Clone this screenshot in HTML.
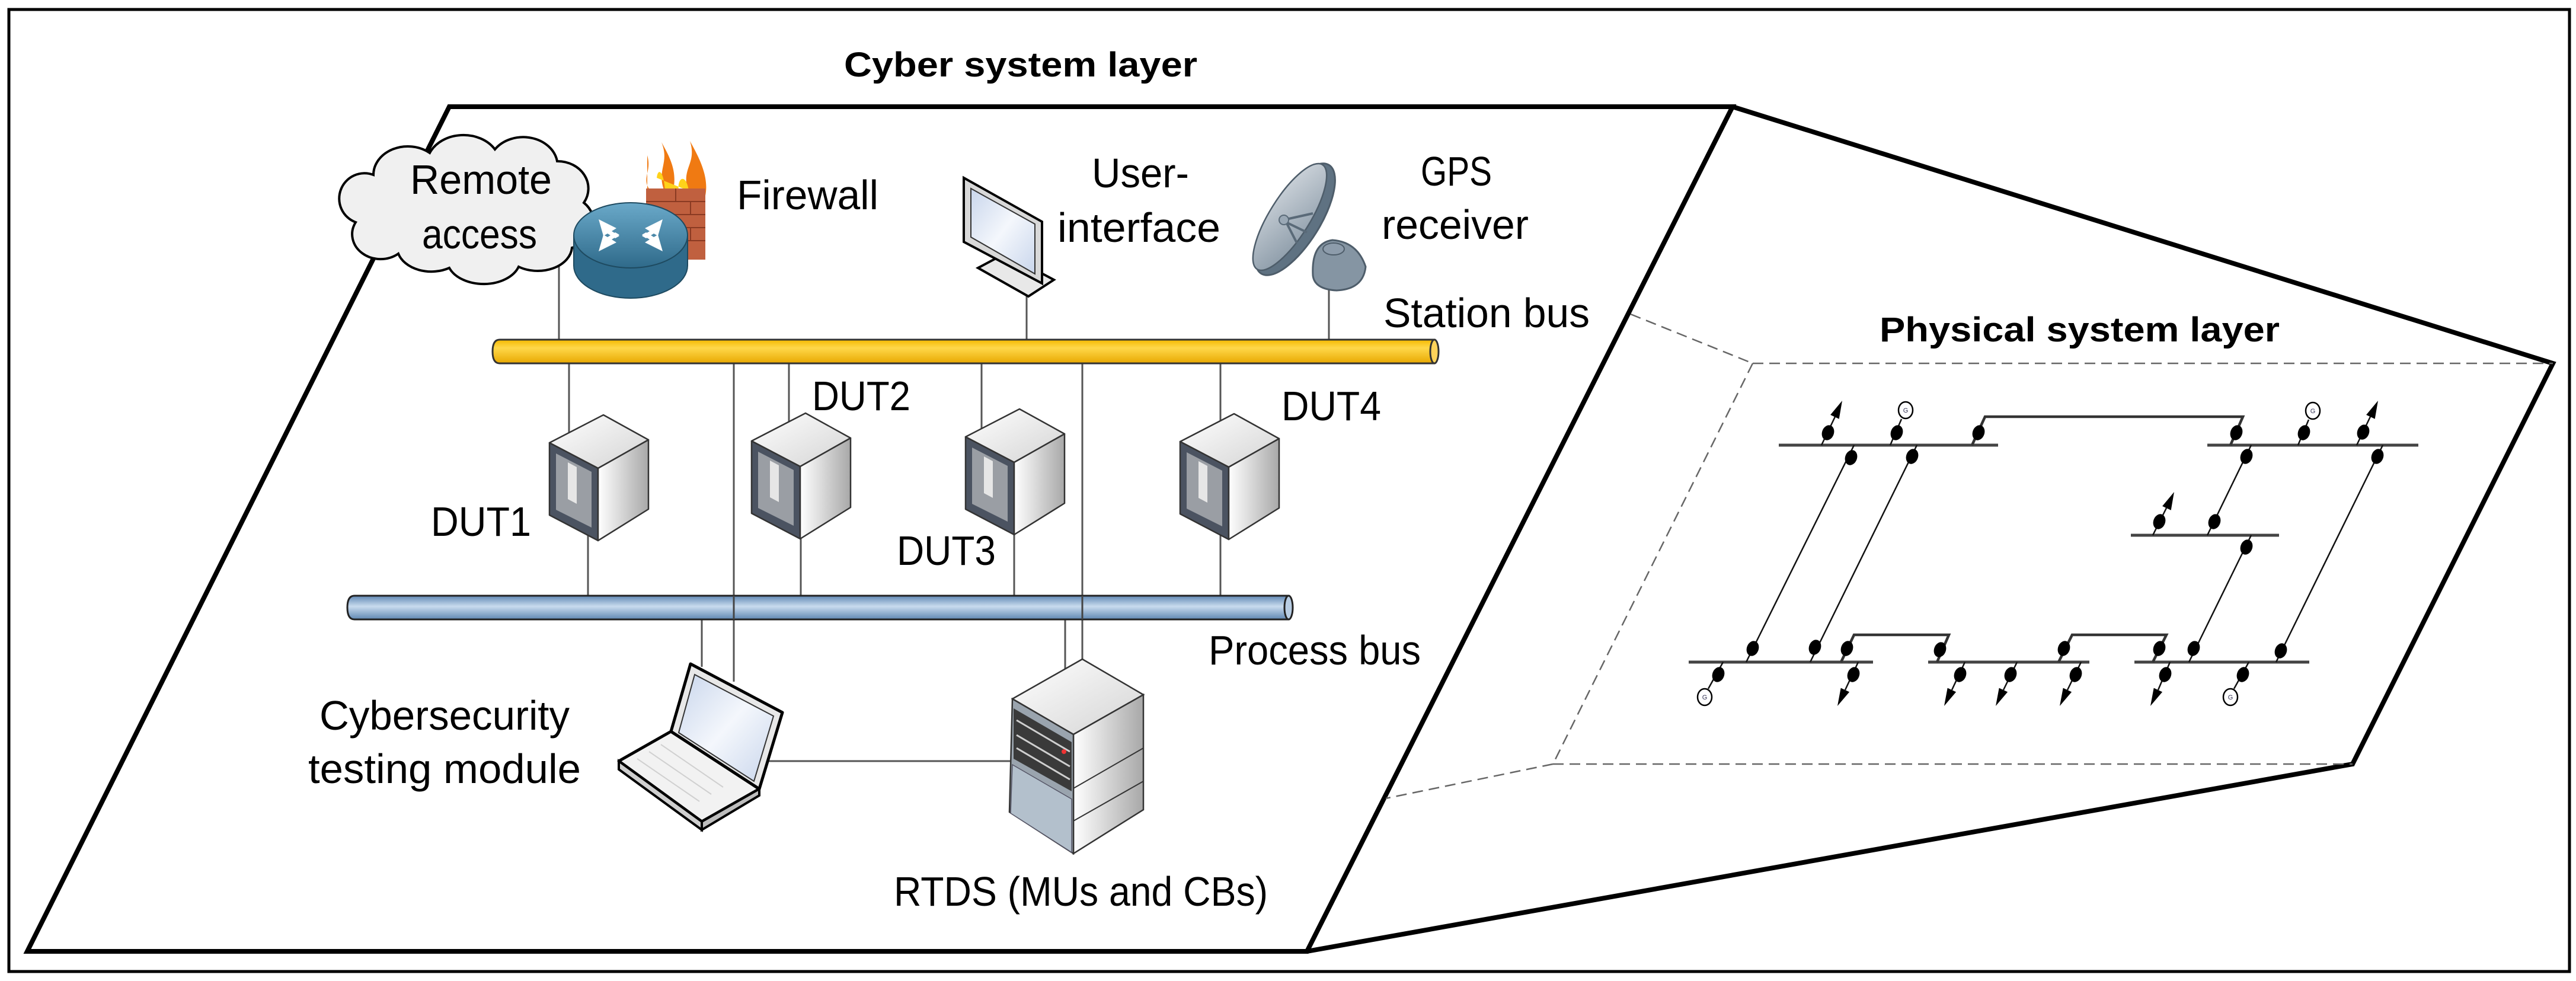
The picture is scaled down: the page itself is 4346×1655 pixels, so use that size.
<!DOCTYPE html>
<html><head><meta charset="utf-8"><style>html,body{margin:0;padding:0;background:#fff}svg{display:block}</style></head>
<body>
<svg xmlns="http://www.w3.org/2000/svg" width="4346" height="1655" viewBox="0 0 4346 1655">
<defs>
<linearGradient id="yel" x1="0" y1="0" x2="0" y2="1"><stop offset="0" stop-color="#f5b800"/><stop offset="0.35" stop-color="#ffd84a"/><stop offset="1" stop-color="#e8a800"/></linearGradient>
<linearGradient id="blu" x1="0" y1="0" x2="0" y2="1"><stop offset="0" stop-color="#5f87b3"/><stop offset="0.45" stop-color="#c9dbee"/><stop offset="1" stop-color="#5f87b3"/></linearGradient>
<linearGradient id="rf" x1="0" y1="0" x2="1" y2="0"><stop offset="0" stop-color="#ffffff"/><stop offset="1" stop-color="#a8a8a8"/></linearGradient>
<linearGradient id="tf" x1="0" y1="0" x2="1" y2="1"><stop offset="0" stop-color="#ffffff"/><stop offset="1" stop-color="#d4d4d4"/></linearGradient>
<linearGradient id="rt" x1="0" y1="0" x2="0" y2="1"><stop offset="0" stop-color="#6aa9c9"/><stop offset="1" stop-color="#2f6a8a"/></linearGradient>
<linearGradient id="dish" x1="0" y1="0" x2="1" y2="1"><stop offset="0" stop-color="#d3d9df"/><stop offset="1" stop-color="#8696a4"/></linearGradient>
<linearGradient id="scr" x1="0" y1="0" x2="1" y2="1"><stop offset="0" stop-color="#c9d6ec"/><stop offset="0.5" stop-color="#f4f7fc"/><stop offset="1" stop-color="#c9d6ec"/></linearGradient>
<g id="srv" stroke="#333" stroke-width="2.5" stroke-linejoin="round">
<polygon points="0,0 76,42 -9,90 -91,47" fill="url(#tf)"/>
<polygon points="-91,47 -9,90 -9,212 -91,169" fill="#4b5361"/>
<polygon points="-80,65 -20,96 -20,190 -80,160" fill="#9a9ea4" stroke="none"/>
<polygon points="-60,80 -45,88 -45,150 -60,142" fill="#e6e6e6" stroke="none"/>
<polygon points="-9,90 76,42 76,159 -9,212" fill="url(#rf)"/>
</g>
</defs>

<rect x="15" y="16" width="4320" height="1623" fill="none" stroke="#000" stroke-width="5"/>

<polygon points="758,180 2923,180 2205,1605 46,1605" fill="none" stroke="#000" stroke-width="8" stroke-linejoin="miter"/>
<polyline points="2923,180 4307,613 3969,1289 2205,1605" fill="none" stroke="#000" stroke-width="8"/>
<g stroke="#666" stroke-width="2.5" stroke-dasharray="18 10" fill="none">
<line x1="2751" y1="530" x2="2957" y2="613"/>
<line x1="2957" y1="613" x2="4307" y2="613"/>
<line x1="2957" y1="613" x2="2620" y2="1289"/>
<line x1="2620" y1="1289" x2="3969" y2="1289"/>
<line x1="2620" y1="1289" x2="2338" y2="1347"/>
</g>

<g font-family="Liberation Sans, sans-serif" font-weight="bold" font-size="58" fill="#000">
<text x="1424" y="129" textLength="596" lengthAdjust="spacingAndGlyphs">Cyber system layer</text>
<text x="3171" y="576" textLength="675" lengthAdjust="spacingAndGlyphs">Physical system layer</text>
</g>

<g stroke="#555" stroke-width="3" fill="none">
<line x1="943" y1="430" x2="943" y2="575"/>
<line x1="1732" y1="490" x2="1732" y2="575"/>
<line x1="2242" y1="480" x2="2242" y2="575"/>
<line x1="960" y1="611" x2="960" y2="740"/>
<line x1="992" y1="880" x2="992" y2="1007"/>
<line x1="1238" y1="611" x2="1238" y2="1150"/>
<line x1="1331" y1="611" x2="1331" y2="740"/>
<line x1="1351" y1="880" x2="1351" y2="1007"/>
<line x1="1656" y1="611" x2="1656" y2="730"/>
<line x1="1711" y1="880" x2="1711" y2="1007"/>
<line x1="1826" y1="611" x2="1826" y2="1115"/>
<line x1="2059" y1="611" x2="2059" y2="740"/>
<line x1="2059" y1="880" x2="2059" y2="1007"/>
<line x1="1184" y1="1043" x2="1184" y2="1125"/>
<line x1="1797" y1="1043" x2="1797" y2="1185"/>
<line x1="1290" y1="1284" x2="1705" y2="1284"/>
</g>

<path d="M843,573 L2420,573 L2420,613 L843,613 Q831,613 831,593 Q831,573 843,573 Z" fill="url(#yel)" stroke="#333" stroke-width="3"/>
<ellipse cx="2420" cy="593" rx="7" ry="20" fill="#ffd35a" stroke="#333" stroke-width="3"/>
<path d="M598,1005 L2174,1005 L2174,1045 L598,1045 Q586,1045 586,1025 Q586,1005 598,1005 Z" fill="url(#blu)" stroke="#222" stroke-width="3"/>
<ellipse cx="2174" cy="1025" rx="7" ry="20" fill="#b8cde3" stroke="#222" stroke-width="3"/>
<line x1="1238" y1="1005" x2="1238" y2="1045" stroke="#444" stroke-width="3"/>
<line x1="1826" y1="1005" x2="1826" y2="1045" stroke="#444" stroke-width="3"/>

<!-- cloud -->
<path d="M630,295 A58,48 0 0 1 725,258 A62,50 0 0 1 835,252 A58,48 0 0 1 940,272 A52,46 0 0 1 985,342 A48,44 0 0 1 965,418 A58,42 0 0 1 875,450 A62,42 0 0 1 758,452 A58,42 0 0 1 672,428 A48,42 0 0 1 600,375 A42,42 0 0 1 630,295 Z" fill="#f0f0f0" stroke="#000" stroke-width="4"/>

<!-- firewall -->
<path d="M1092,262 C1100,290 1082,300 1096,320 L1120,320 C1108,285 1130,275 1116,240 C1132,268 1142,290 1136,320 L1160,320 C1150,282 1176,276 1164,238 C1182,270 1196,300 1190,330 L1092,330 Z" fill="#f07a12"/>
<path d="M1108,300 C1110,282 1120,288 1122,322 L1145,322 C1142,298 1158,292 1162,322 Z" fill="#ffd21a"/>
<rect x="1090" y="318" width="100" height="120" fill="#c0603f"/>
<g stroke="#8a3a22" stroke-width="2">
<line x1="1090" y1="340" x2="1190" y2="340"/><line x1="1090" y1="362" x2="1190" y2="362"/><line x1="1090" y1="384" x2="1190" y2="384"/><line x1="1090" y1="406" x2="1190" y2="406"/>
<line x1="1140" y1="318" x2="1140" y2="340"/><line x1="1165" y1="340" x2="1165" y2="362"/><line x1="1140" y1="362" x2="1140" y2="384"/><line x1="1165" y1="384" x2="1165" y2="406"/><line x1="1140" y1="406" x2="1140" y2="438"/>
</g>
<path d="M968,397 L968,448 A96,55 0 0 0 1160,448 L1160,397 Z" fill="#2f6a8a" stroke="#1e4a60" stroke-width="2"/>
<ellipse cx="1064" cy="397" rx="96" ry="55" fill="url(#rt)" stroke="#1e4a60" stroke-width="2"/>
<g fill="#fff">
<polygon points="1010,370 1040,385 1032,390 1045,398 1038,402 1025,394 1018,398"/>
<polygon points="1118,370 1088,385 1096,390 1083,398 1090,402 1103,394 1110,398"/>
<polygon points="1010,424 1040,409 1032,404 1045,396 1038,392 1025,400 1018,396"/>
<polygon points="1118,424 1088,409 1096,404 1083,396 1090,392 1103,400 1110,396"/>
</g>

<!-- monitor -->
<polygon points="1650,452 1735,500 1778,472 1695,428" fill="#e8e8e8" stroke="#000" stroke-width="4"/>
<polygon points="1626,300 1758,374 1758,478 1626,408" fill="#d8d8d8" stroke="#000" stroke-width="4"/>
<polygon points="1638,318 1746,378 1746,462 1638,400" fill="url(#scr)" stroke="#333" stroke-width="2"/>

<!-- satellite dish -->
<path d="M2215,465 Q2212,410 2248,405 Q2290,408 2304,450 Q2300,488 2255,490 Q2218,488 2215,465 Z" fill="#8595a3" stroke="#4e5d6a" stroke-width="3"/>
<ellipse cx="2250" cy="420" rx="18" ry="10" fill="#8d9cab" stroke="#4e5d6a" stroke-width="2"/>
<ellipse cx="2185" cy="370" rx="42" ry="108" transform="rotate(32 2185 370)" fill="#5f7282" stroke="#4e5d6a" stroke-width="3"/>
<ellipse cx="2176" cy="366" rx="34" ry="104" transform="rotate(32 2176 366)" fill="url(#dish)" stroke="#4e5d6a" stroke-width="2.5"/>
<g stroke="#5a6a78" stroke-width="4"><line x1="2170" y1="370" x2="2215" y2="360"/><line x1="2170" y1="375" x2="2205" y2="392"/><line x1="2170" y1="375" x2="2188" y2="410"/></g>
<circle cx="2166" cy="371" r="8" fill="#9aa8b5" stroke="#5a6a78" stroke-width="2"/>

<use href="#srv" x="1018" y="700"/>
<use href="#srv" x="1359" y="697"/>
<use href="#srv" x="1720" y="690"/>
<use href="#srv" x="2082" y="698"/>

<!-- laptop -->
<polygon points="1044,1284 1132,1234 1281,1331 1184,1386" fill="#f2f2f2" stroke="#000" stroke-width="5" stroke-linejoin="round"/>
<polygon points="1044,1284 1184,1386 1184,1400 1044,1298" fill="#cfcfcf" stroke="#000" stroke-width="4"/>
<polygon points="1184,1386 1281,1331 1281,1342 1184,1400" fill="#bdbdbd" stroke="#000" stroke-width="4"/>
<g stroke="#d0d0d0" stroke-width="2">
<line x1="1075" y1="1280" x2="1180" y2="1352"/><line x1="1095" y1="1268" x2="1200" y2="1340"/><line x1="1115" y1="1256" x2="1220" y2="1328"/>
</g>
<polygon points="1165,1120 1320,1202 1281,1331 1132,1234" fill="#e8e8e8" stroke="#000" stroke-width="5" stroke-linejoin="round"/>
<polygon points="1172,1138 1305,1208 1272,1318 1145,1236" fill="url(#scr)" stroke="#333" stroke-width="2"/>

<!-- RTDS -->
<polygon points="1826,1112 1929,1172 1811,1239 1708,1179" fill="url(#tf)" stroke="#333" stroke-width="2.5"/>
<polygon points="1811,1239 1929,1172 1929,1366 1811,1440" fill="url(#rf)" stroke="#333" stroke-width="2.5"/>
<line x1="1811" y1="1330" x2="1929" y2="1262" stroke="#333" stroke-width="2"/>
<line x1="1811" y1="1385" x2="1929" y2="1318" stroke="#333" stroke-width="2"/>
<polygon points="1708,1179 1811,1239 1811,1440 1703,1370" fill="#9aa4ae" stroke="#333" stroke-width="2.5"/>
<polygon points="1710,1195 1808,1252 1808,1335 1710,1280" fill="#3a3a3a"/>
<g stroke="#cfcfcf" stroke-width="3"><line x1="1715" y1="1215" x2="1805" y2="1268"/><line x1="1715" y1="1240" x2="1805" y2="1293"/><line x1="1715" y1="1262" x2="1805" y2="1315"/></g>
<polygon points="1708,1290 1808,1348 1808,1438 1705,1372" fill="#b3c0cc" stroke="#556" stroke-width="1.5"/>
<circle cx="1795" cy="1268" r="4" fill="#e33"/>

<g font-family="Liberation Sans, sans-serif" font-size="70" fill="#000">
<text x="692" y="327" textLength="239" lengthAdjust="spacingAndGlyphs">Remote</text>
<text x="712" y="419" textLength="194" lengthAdjust="spacingAndGlyphs">access</text>
<text x="1243" y="353" textLength="239" lengthAdjust="spacingAndGlyphs">Firewall</text>
<text x="1842" y="316" textLength="164" lengthAdjust="spacingAndGlyphs">User-</text>
<text x="1784" y="408" textLength="275" lengthAdjust="spacingAndGlyphs">interface</text>
<text x="2397" y="313" textLength="120" lengthAdjust="spacingAndGlyphs">GPS</text>
<text x="2331" y="403" textLength="248" lengthAdjust="spacingAndGlyphs">receiver</text>
<text x="2334" y="552" textLength="348" lengthAdjust="spacingAndGlyphs">Station bus</text>
<text x="1370" y="692" textLength="166" lengthAdjust="spacingAndGlyphs">DUT2</text>
<text x="2162" y="709" textLength="168" lengthAdjust="spacingAndGlyphs">DUT4</text>
<text x="727" y="904" textLength="169" lengthAdjust="spacingAndGlyphs">DUT1</text>
<text x="1513" y="953" textLength="167" lengthAdjust="spacingAndGlyphs">DUT3</text>
<text x="2039" y="1121" textLength="358" lengthAdjust="spacingAndGlyphs">Process bus</text>
<text x="539" y="1231" textLength="422" lengthAdjust="spacingAndGlyphs">Cybersecurity</text>
<text x="520" y="1321" textLength="460" lengthAdjust="spacingAndGlyphs">testing module</text>
<text x="1508" y="1528" textLength="631" lengthAdjust="spacingAndGlyphs">RTDS (MUs and CBs)</text>
</g>

<g stroke="#444" stroke-width="5">
<line x1="3001" y1="751" x2="3371" y2="751"/>
<line x1="3724" y1="751" x2="4080" y2="751"/>
<line x1="3595" y1="903" x2="3845" y2="903"/>
<line x1="2849" y1="1117" x2="3160" y2="1117"/>
<line x1="3253" y1="1117" x2="3525" y2="1117"/>
<line x1="3601" y1="1117" x2="3896" y2="1117"/>
</g>
<g stroke="#111" stroke-width="2.5" fill="none">
<line x1="3128" y1="751" x2="2946" y2="1117"/>
<line x1="3234" y1="751" x2="3054" y2="1117"/>
<line x1="3798" y1="751" x2="3724" y2="903"/>
<line x1="3798" y1="903" x2="3693" y2="1117"/>
<line x1="4020" y1="751" x2="3840" y2="1117"/>
<line x1="3073" y1="751" x2="3096" y2="703"/>
<line x1="3189" y1="751" x2="3208" y2="707"/>
<line x1="3877" y1="751" x2="3895" y2="708"/>
<line x1="3976" y1="751" x2="3999" y2="703"/>
<line x1="3632" y1="903" x2="3655" y2="857"/>
<line x1="2907" y1="1117" x2="2882" y2="1162"/>
<line x1="3794" y1="1117" x2="3769" y2="1162"/>
<line x1="3135" y1="1117" x2="3113" y2="1164"/>
<line x1="3315" y1="1117" x2="3293" y2="1164"/>
<line x1="3403" y1="1117" x2="3380" y2="1164"/>
<line x1="3511" y1="1117" x2="3488" y2="1164"/>
<line x1="3661" y1="1117" x2="3641" y2="1164"/>
</g>
<g stroke="#333" stroke-width="4.5" fill="none">
<polyline points="3327,751 3349,703 3784,703 3763,751"/>
<polyline points="3106,1117 3128,1071 3288,1071 3268,1117"/>
<polyline points="3473,1117 3496,1071 3655,1071 3632,1117"/>
</g>
<g fill="#000">
<polygon points="3108,676 3102.7,706.7 3088.1,699.9"/>
<polygon points="4012,676 4006.7,706.7 3992.1,699.9"/>
<polygon points="3668,830 3662.7,860.7 3648.1,853.9"/>
<polygon points="3100,1191 3120.1,1167.4 3105.7,1160.6"/>
<polygon points="3280,1191 3300.1,1167.4 3285.7,1160.6"/>
<polygon points="3367,1191 3387.1,1167.4 3372.7,1160.6"/>
<polygon points="3475,1191 3495.1,1167.4 3480.7,1160.6"/>
<polygon points="3628,1191 3648.1,1167.4 3633.7,1160.6"/>
</g>
<g fill="#000">
<ellipse cx="3084" cy="730" rx="10" ry="13" transform="rotate(20 3084 730)"/>
<ellipse cx="3200" cy="730" rx="10" ry="13" transform="rotate(20 3200 730)"/>
<ellipse cx="3338" cy="730" rx="10" ry="13" transform="rotate(20 3338 730)"/>
<ellipse cx="3773" cy="730" rx="10" ry="13" transform="rotate(20 3773 730)"/>
<ellipse cx="3887" cy="730" rx="10" ry="13" transform="rotate(20 3887 730)"/>
<ellipse cx="3987" cy="729" rx="10" ry="13" transform="rotate(20 3987 729)"/>
<ellipse cx="3123" cy="772" rx="10" ry="13" transform="rotate(20 3123 772)"/>
<ellipse cx="3226" cy="770" rx="10" ry="13" transform="rotate(20 3226 770)"/>
<ellipse cx="3790" cy="770" rx="10" ry="13" transform="rotate(20 3790 770)"/>
<ellipse cx="4011" cy="770" rx="10" ry="13" transform="rotate(20 4011 770)"/>
<ellipse cx="3736" cy="880" rx="10" ry="13" transform="rotate(20 3736 880)"/>
<ellipse cx="3643" cy="880" rx="10" ry="13" transform="rotate(20 3643 880)"/>
<ellipse cx="3790" cy="923" rx="10" ry="13" transform="rotate(20 3790 923)"/>
<ellipse cx="2957" cy="1094" rx="10" ry="13" transform="rotate(20 2957 1094)"/>
<ellipse cx="3062" cy="1092" rx="10" ry="13" transform="rotate(20 3062 1092)"/>
<ellipse cx="3116" cy="1094" rx="10" ry="13" transform="rotate(20 3116 1094)"/>
<ellipse cx="3273" cy="1096" rx="10" ry="13" transform="rotate(20 3273 1096)"/>
<ellipse cx="3482" cy="1094" rx="10" ry="13" transform="rotate(20 3482 1094)"/>
<ellipse cx="3643" cy="1094" rx="10" ry="13" transform="rotate(20 3643 1094)"/>
<ellipse cx="3701" cy="1094" rx="10" ry="13" transform="rotate(20 3701 1094)"/>
<ellipse cx="3848" cy="1098" rx="10" ry="13" transform="rotate(20 3848 1098)"/>
<ellipse cx="2899" cy="1138" rx="10" ry="13" transform="rotate(20 2899 1138)"/>
<ellipse cx="3127" cy="1138" rx="10" ry="13" transform="rotate(20 3127 1138)"/>
<ellipse cx="3307" cy="1138" rx="10" ry="13" transform="rotate(20 3307 1138)"/>
<ellipse cx="3392" cy="1138" rx="10" ry="13" transform="rotate(20 3392 1138)"/>
<ellipse cx="3502" cy="1138" rx="10" ry="13" transform="rotate(20 3502 1138)"/>
<ellipse cx="3653" cy="1138" rx="10" ry="13" transform="rotate(20 3653 1138)"/>
<ellipse cx="3784" cy="1138" rx="10" ry="13" transform="rotate(20 3784 1138)"/>
</g>
<g fill="#fff" stroke="#000" stroke-width="2.5">
<ellipse cx="3215" cy="692" rx="12" ry="14"/>
<ellipse cx="3902" cy="693" rx="12" ry="14"/>
<ellipse cx="2876" cy="1176" rx="12" ry="14"/>
<ellipse cx="3763" cy="1176" rx="12" ry="14"/>
</g>
<g font-family="Liberation Sans, sans-serif" font-size="11" fill="#335" text-anchor="middle">
<text x="3215" y="696">G</text><text x="3902" y="697">G</text><text x="2876" y="1180">G</text><text x="3763" y="1180">G</text>
</g>
</svg>
</body></html>
